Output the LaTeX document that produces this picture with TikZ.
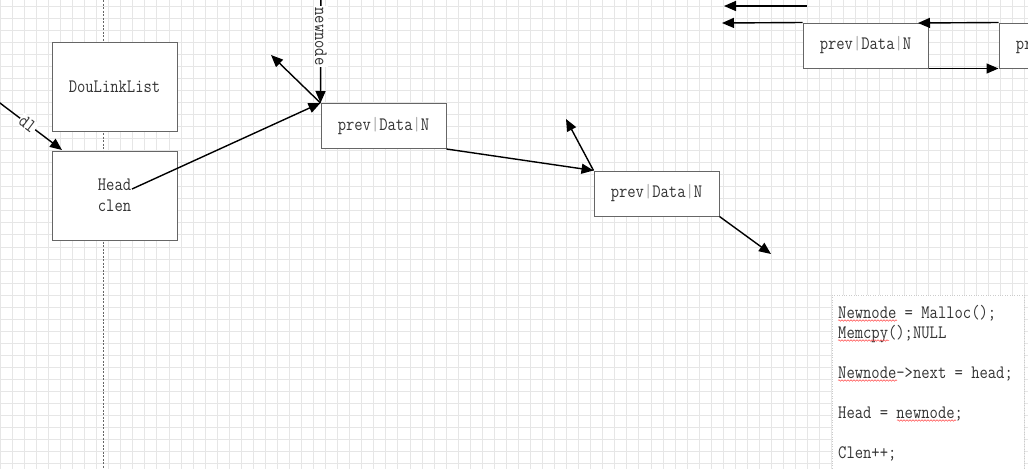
\documentclass[tikz,border=0pt]{standalone}
\usepackage{fontspec}
\usepackage{xcolor}
\usepackage{tikz}
\usetikzlibrary{arrows.meta, positioning, calc, decorations.pathmorphing}
\newfontfamily\boxfont[FakeStretch=0.85]{Latin Modern Mono}
\definecolor{gridgray}{HTML}{E6E6E6}
\definecolor{boxgray}{HTML}{666666}
\definecolor{inkgray}{HTML}{333333}
\newcommand{\sep}{\textcolor{gray!70}{|}}

\begin{document}
\begin{tikzpicture}[x=1pt, y=-1pt,
    font=\boxfont\fontsize{19}{20}\selectfont, text=inkgray,
    listbox/.style={draw=boxgray, line width=1pt, fill=white, inner sep=0pt},
    nodebox/.style={listbox, minimum width=125pt, minimum height=45pt},
    link/.style={line width=1.4pt, -{Triangle[length=12pt, width=10pt]}},
    codeline/.style={anchor=base west, inner sep=0pt},
    squiggle/.style={red!70, line width=0.5pt, decorate,
        decoration={snake, amplitude=0.8pt, segment length=3pt}}]
  \clip (0,0) rectangle (1028,469);
  \fill[white] (0,0) rectangle (1028,469);
  \foreach \i in {0,...,85}
    \draw[gridgray, line width=1pt] ({0.3+12.05*\i},0) -- ++(0,469);
  \foreach \j in {0,...,39}
    \draw[gridgray, line width=1pt] (0,{6+12.05*\j}) -- ++(1028,0);
  \draw[boxgray, line width=0.8pt, dash pattern=on 2pt off 1.5pt] (103,0) -- (103,469);

  % list header
  \node[listbox, minimum width=125pt, minimum height=89pt] (dll) at (114.5,86.5) {DouLinkList};
  \node[listbox, minimum width=125pt, minimum height=89pt, align=center] (head) at (114.5,195.5) {Head\\[1pt]clen};

  % nodes
  \node[nodebox] (n1) at (383.5,126) {prev\sep Data\sep N};
  \node[nodebox] (n2) at (656.5,193.5) {prev\sep Data\sep N};
  \node[nodebox] (n3) at (865.5,45.5) {prev\sep Data\sep N};
  \node[nodebox] (n4) at (1061.5,45.5) {prev\sep Data\sep N};

  \coordinate (dlin) at (-4,100);
  \coordinate (dlend) at (62,150);
  \coordinate (hd) at (132,189);
  \coordinate (nwtop) at (321,-30);
  \coordinate (p1) at (271,55);
  \coordinate (p2) at (566,119);
  \coordinate (q2) at (771,254);
  \coordinate (t1) at (807,6);
  \coordinate (t2) at (724,6);
  \coordinate (p3) at (722,23);
  \coordinate (p4) at (918,23);

  \draw[link] (dlin) -- (dlend)
      node[pos=0.48, fill=white, inner sep=1pt, rotate=-37] {dl};
  \draw[link] (hd) -- (n1.north west);
  \draw[link] (nwtop) -- (n1.north west)
      node[pos=0.5, fill=white, inner sep=1pt, rotate=-90] {newnode};
  \draw[link] (n1.north west) -- (p1);
  \draw[link] (n1.south east) -- (n2.north west);
  \draw[link] (n2.north west) -- (p2);
  \draw[link] (n2.south east) -- (q2);
  \draw[link] (t1) -- (t2);
  \draw[link] (n3.north west) -- (p3);
  \draw[link] (n3.south east) -- (n4.south west);
  \draw[link] (n4.north west) -- (p4);

  % code box
  \draw[gray!40, dotted, fill=white] (832,295) rectangle (1024,480);
  \node[codeline] (c1) at (838,318) {Newnode = Malloc();};
  \node[codeline] (c2) at (838,338) {Memcpy();NULL};
  \node[codeline] (c3) at (838,378) {Newnode->next = head;};
  \node[codeline] (c4) at (838,418) {Head = newnode;};
  \node[codeline] (c5) at (838,458) {Clen++;};
  \draw[squiggle] ($(c1.base west)+(0,2.5)$) -- ++(59,0);
  \draw[squiggle] ($(c2.base west)+(0,2.5)$) -- ++(51,0);
  \draw[squiggle] ($(c3.base west)+(0,2.5)$) -- ++(59,0);
  \draw[squiggle] ($(c4.base west)+(59,2.5)$) -- ++(59,0);
\end{tikzpicture}
\end{document}
